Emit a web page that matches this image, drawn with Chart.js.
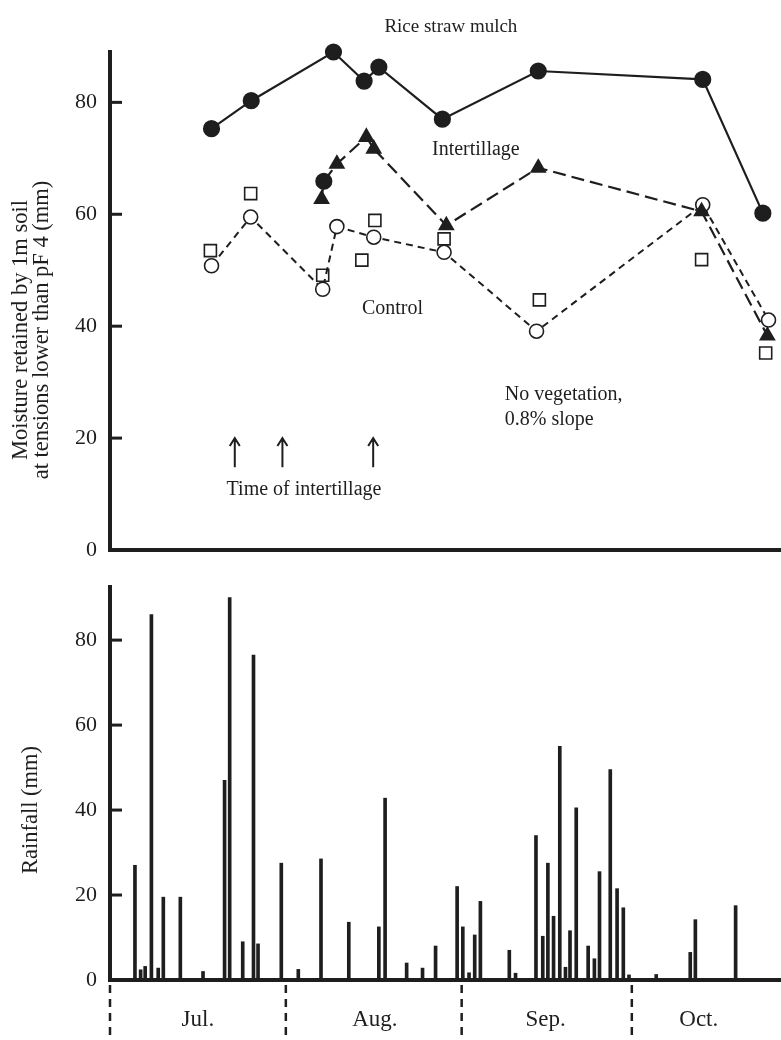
<!DOCTYPE html>
<html>
<head>
<meta charset="utf-8">
<title>Soil moisture and rainfall</title>
<script src="https://cdn.jsdelivr.net/npm/chart.js@4.4.1/dist/chart.umd.min.js"></script>
<style>
  html, body { margin: 0; padding: 0; background: #fff; }
  #wrap { position: relative; width: 781px; height: 1040px; }
  #moistureChart { position: absolute; left: 0; top: 0; }
  #rainChart { position: absolute; left: 0; top: 570px; }
</style>
</head>
<body>
<div id="wrap">
  <canvas id="moistureChart" width="781" height="570"></canvas>
  <canvas id="rainChart" width="781" height="470"></canvas>
</div>
<script>
// days counted from 1 July
const months = ["Jul.", "Aug.", "Sep.", "Oct."];
const monthStartDays = [0, 31, 62, 92];
const monthLabelDays = [15.5, 46.7, 76.8, 103.8];

// moisture retained (mm)
const mulchDays = [17.9, 24.9, 39.4, 44.8, 47.4, 58.6, 75.5, 104.5, 115.1];
const mulchVals = [75.3, 80.3, 89.0, 83.8, 86.3, 77.0, 85.6, 84.1, 60.2];
const tillDays = [37.3, 37.7, 40.0, 45.2, 46.5, 59.3, 75.5, 104.3, 115.9];
const tillVals = [62.7, 65.9, 69.0, 73.8, 71.7, 58.0, 68.3, 60.5, 38.3];
const controlDays = [17.9, 24.8, 37.5, 40.0, 46.5, 58.9, 75.2, 104.5, 116.1];
const controlVals = [50.8, 59.5, 46.6, 57.8, 55.9, 53.2, 39.1, 61.7, 41.1];
const squareDays = [17.7, 24.8, 37.5, 44.4, 46.7, 58.9, 75.7, 104.3, 115.6];
const squareVals = [53.5, 63.7, 49.1, 51.8, 58.9, 55.6, 44.7, 51.9, 35.2];
const intertillageDays = [22.0, 30.4, 46.4];

// daily rainfall (mm)
const rainDays = [4.4, 5.4, 6.2, 7.3, 8.5, 9.4, 12.4, 16.4, 20.2, 21.1,
  23.4, 25.3, 26.1, 30.2, 33.2, 37.2, 42.1, 47.4, 48.5, 52.3,
  55.1, 57.4, 61.2, 62.2, 63.3, 64.3, 65.3, 70.4, 71.5, 75.1,
  76.3, 77.2, 78.2, 79.3, 80.3, 81.1, 82.2, 84.3, 85.4, 86.3,
  88.2, 89.4, 90.5, 91.5, 96.3, 102.3, 103.2, 110.3];
const rainMm = [27, 2.4, 3.2, 86, 2.8, 19.5, 19.5, 2, 47, 90,
  9, 76.5, 8.5, 27.5, 2.5, 28.5, 13.6, 12.5, 42.8, 4,
  2.8, 8, 22, 12.5, 1.7, 10.6, 18.5, 7, 1.6, 34,
  10.3, 27.5, 15, 55, 3, 11.6, 40.5, 8, 5, 25.5,
  49.5, 21.5, 17, 1.2, 1.3, 6.5, 14.2, 17.5];

const INK = "#1e1e1e";
const SERIF = "'Liberation Serif', 'Times New Roman', serif";
const X_MAX = 118.3;

Chart.defaults.font.family = SERIF;
Chart.defaults.font.size = 22;
Chart.defaults.color = INK;
Chart.defaults.animation = false;
Chart.defaults.plugins.legend.display = false;
Chart.defaults.plugins.tooltip.enabled = false;

function toPoints(xs, ys) {
  return xs.map((x, i) => ({ x: x, y: ys[i] }));
}

// keep the axes where the picture has them, without label padding
function fixY(s) {
  s.width = 110;
  s.paddingTop = 0;
  s.paddingBottom = 0;
}

function drawInwardTicks(chart) {
  const { ctx, scales: { y } } = chart;
  ctx.save();
  ctx.strokeStyle = INK;
  ctx.lineWidth = 3;
  y.ticks.forEach(t => {
    if (t.value === 0) return;
    const py = y.getPixelForValue(t.value);
    ctx.beginPath();
    ctx.moveTo(y.right, py);
    ctx.lineTo(y.right + 12, py);
    ctx.stroke();
  });
  ctx.restore();
}

function text(ctx, str, px, py, align) {
  ctx.textAlign = align || "center";
  ctx.fillText(str, px, py);
}

const moisturePlugin = {
  id: "moistureNotes",
  afterDraw(chart) {
    const { ctx, scales: { x, y } } = chart;
    drawInwardTicks(chart);
    ctx.save();
    ctx.fillStyle = INK;
    ctx.textBaseline = "middle";
    ctx.font = "19px " + SERIF;
    text(ctx, "Rice straw mulch", x.getPixelForValue(60.1), 27);
    ctx.font = "20px " + SERIF;
    text(ctx, "Intertillage", x.getPixelForValue(64.5), y.getPixelForValue(71.6));
    text(ctx, "Control", x.getPixelForValue(49.8), y.getPixelForValue(43.1));
    text(ctx, "No vegetation,", x.getPixelForValue(69.6), y.getPixelForValue(27.7), "left");
    text(ctx, "0.8% slope", x.getPixelForValue(69.6), y.getPixelForValue(23.2), "left");
    text(ctx, "Time of intertillage", x.getPixelForValue(34.2), y.getPixelForValue(10.7));

    // arrows marking intertillage
    ctx.strokeStyle = INK;
    ctx.lineWidth = 2;
    intertillageDays.forEach(d => {
      const px = x.getPixelForValue(d);
      const top = y.getPixelForValue(20.0);
      const bot = y.getPixelForValue(14.8);
      ctx.beginPath();
      ctx.moveTo(px, bot);
      ctx.lineTo(px, top);
      ctx.moveTo(px - 5, top + 8);
      ctx.lineTo(px, top);
      ctx.lineTo(px + 5, top + 8);
      ctx.stroke();
    });

    // y title, two lines
    ctx.font = "22.5px " + SERIF;
    ctx.translate(21, 330);
    ctx.rotate(-Math.PI / 2);
    text(ctx, "Moisture retained by 1m soil", 0, 0);
    text(ctx, "at tensions lower than pF 4 (mm)", 0, 21);
    ctx.restore();
  }
};

const rainPlugin = {
  id: "rainNotes",
  afterDraw(chart) {
    const { ctx, chartArea, scales: { x } } = chart;
    drawInwardTicks(chart);
    ctx.save();
    ctx.strokeStyle = INK;
    ctx.lineWidth = 2.5;
    ctx.setLineDash([8, 6]);
    monthStartDays.forEach(d => {
      const px = x.getPixelForValue(d);
      ctx.beginPath();
      ctx.moveTo(px, chartArea.bottom + 5);
      ctx.lineTo(px, chart.height);
      ctx.stroke();
    });
    ctx.setLineDash([]);
    ctx.fillStyle = INK;
    ctx.font = "22.5px " + SERIF;
    ctx.textBaseline = "middle";
    ctx.translate(31, 240);
    ctx.rotate(-Math.PI / 2);
    text(ctx, "Rainfall (mm)", 0, 0);
    ctx.restore();
  }
};

const lineBase = {
  showLine: true,
  borderColor: INK,
  borderWidth: 2.2,
  pointBorderColor: INK,
  clip: false
};

new Chart(document.getElementById("moistureChart"), {
  type: "scatter",
  data: {
    datasets: [
      Object.assign({}, lineBase, {
        label: "Rice straw mulch",
        data: toPoints(mulchDays, mulchVals),
        pointStyle: "circle",
        pointRadius: 7.5,
        pointBackgroundColor: INK
      }),
      Object.assign({}, lineBase, {
        label: "Intertillage",
        data: toPoints(tillDays, tillVals),
        borderDash: [13, 6],
        pointStyle: ctx => ctx.dataIndex === 1 ? "circle" : "triangle",
        pointRadius: 7.5,
        pointBackgroundColor: INK
      }),
      Object.assign({}, lineBase, {
        label: "Control",
        data: toPoints(controlDays, controlVals),
        borderWidth: 2,
        borderDash: [7, 5],
        pointStyle: "circle",
        pointRadius: 7,
        pointBorderWidth: 1.6,
        pointBackgroundColor: "#fff"
      }),
      {
        label: "Control (second plot)",
        data: toPoints(squareDays, squareVals),
        showLine: false,
        pointStyle: "rect",
        pointRadius: 8.5,
        pointBorderWidth: 1.6,
        pointBorderColor: INK,
        pointBackgroundColor: "#fff",
        clip: false
      }
    ]
  },
  options: {
    responsive: false,
    layout: { autoPadding: false, padding: { top: 52, right: 0, bottom: 20, left: 0 } },
    scales: {
      x: {
        type: "linear", min: 0, max: X_MAX,
        ticks: { display: false },
        grid: { display: false, drawTicks: false },
        border: { display: true, color: INK, width: 4 },
        afterFit: s => { s.height = 0; s.paddingLeft = 0; s.paddingRight = 0; }
      },
      y: {
        min: 0, max: 89,
        ticks: { stepSize: 20, includeBounds: false, padding: 13 },
        grid: { display: false, drawTicks: false },
        border: { display: true, color: INK, width: 4 },
        afterFit: fixY
      }
    }
  },
  plugins: [moisturePlugin]
});

new Chart(document.getElementById("rainChart"), {
  type: "bar",
  data: {
    datasets: [{
      label: "Rainfall",
      data: toPoints(rainDays, rainMm),
      backgroundColor: INK,
      barThickness: 3,
      clip: false
    }]
  },
  options: {
    responsive: false,
    layout: { autoPadding: false, padding: { top: 17, right: 0, bottom: 0, left: 0 } },
    scales: {
      x: {
        type: "linear", min: 0, max: X_MAX, offset: false,
        grid: { display: false, drawTicks: false, offset: false },
        border: { display: true, color: INK, width: 4 },
        afterBuildTicks: s => { s.ticks = monthLabelDays.map(v => ({ value: v })); },
        ticks: { padding: 26, autoSkip: false, maxRotation: 0, font: { size: 23 }, callback: (v, i) => months[i] },
        afterFit: s => { s.height = 60; s.paddingLeft = 0; s.paddingRight = 0; }
      },
      y: {
        min: 0, max: 92.5,
        ticks: { stepSize: 20, includeBounds: false, padding: 13 },
        grid: { display: false, drawTicks: false },
        border: { display: true, color: INK, width: 4 },
        afterFit: fixY
      }
    }
  },
  plugins: [rainPlugin]
});
</script>
</body>
</html>
